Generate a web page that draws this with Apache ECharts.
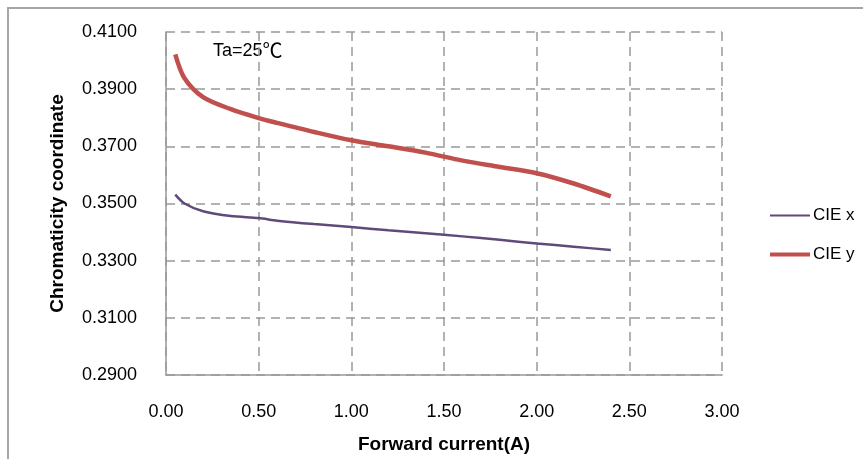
<!DOCTYPE html>
<html>
<head>
<meta charset="utf-8">
<script src="https://cdn.jsdelivr.net/npm/echarts@6/dist/echarts.min.js"></script>
<style>html,body{margin:0;padding:0;background:#fff;}#chart{width:863px;height:459px;}</style>
</head>
<body>
<div id="chart"></div>
<script>
var current = [0.05, 0.1, 0.2, 0.35, 0.5, 0.6, 0.8, 1.0, 1.2, 1.4, 1.6, 1.8, 2.0, 2.2, 2.4];
var cieX = [0.3531, 0.3500, 0.3473, 0.3456, 0.3449, 0.3440, 0.3428, 0.3418, 0.3406, 0.3396, 0.3385, 0.3373, 0.3360, 0.3349, 0.3337];
var cieY = [0.4022, 0.3938, 0.3872, 0.3830, 0.3799, 0.3782, 0.3750, 0.3721, 0.3700, 0.3678, 0.3650, 0.3628, 0.3606, 0.3570, 0.3525];
var seriesNames = ['CIE x', 'CIE y'];

function pairs(xs, ys) { return xs.map(function (x, i) { return [x, ys[i]]; }); }

var font = 'Liberation Sans, Arial';
var chart = echarts.init(document.getElementById('chart'));
chart.setOption({
  animation: false,
  backgroundColor: '#fff',
  grid: { left: 166, right: 141, top: 32, bottom: 83 },
  legend: {
    orient: 'vertical', left: 765, top: 202, itemGap: 22,
    itemWidth: 40, itemHeight: 14,
    textStyle: { fontFamily: font, fontSize: 17, color: '#000', padding: [0, 0, 0, -2] },
    data: [
      { name: seriesNames[0], itemStyle: { color: '#604A7B' }, icon: 'path://M0,6 L40,6 L40,8 L0,8 Z' },
      { name: seriesNames[1], itemStyle: { color: '#C0504D' }, icon: 'path://M0,5 L40,5 L40,9 L0,9 Z' }
    ]
  },
  xAxis: {
    type: 'value', min: 0, max: 3, interval: 0.5,
    name: 'Forward current(A)', nameLocation: 'middle', nameGap: 60,
    nameTextStyle: { fontFamily: font, fontSize: 19, fontWeight: 'bold', color: '#000' },
    axisLine: { show: true, lineStyle: { color: '#999', width: 1.5 } },
    axisTick: { show: false },
    axisLabel: { margin: 28, fontFamily: font, fontSize: 18, color: '#000',
      formatter: function (v) { return v.toFixed(2); } },
    splitLine: { show: true, lineStyle: { color: '#999', type: [9, 6], width: 1.5 } }
  },
  yAxis: {
    type: 'value', min: 0.29, max: 0.41, interval: 0.02,
    name: 'Chromaticity coordinate', nameLocation: 'middle', nameGap: 99,
    nameTextStyle: { fontFamily: font, fontSize: 19, fontWeight: 'bold', color: '#000' },
    axisLine: { show: true, lineStyle: { color: '#999', width: 1.5 } },
    axisTick: { show: false },
    axisLabel: { margin: 29, fontFamily: font, fontSize: 18, color: '#000',
      formatter: function (v) { return v.toFixed(4); } },
    splitLine: { show: true, lineStyle: { color: '#999', type: [9, 6], width: 1.5 } }
  },
  series: [
    { name: seriesNames[0], type: 'line', data: pairs(current, cieX), smooth: 0.3, showSymbol: false,
      lineStyle: { color: '#604A7B', width: 2.5 }, itemStyle: { color: '#604A7B' } },
    { name: seriesNames[1], type: 'line', data: pairs(current, cieY), smooth: 0.3, showSymbol: false,
      lineStyle: { color: '#C0504D', width: 4.5 }, itemStyle: { color: '#C0504D' } }
  ],
  graphic: [
    { type: 'text', left: 213, top: 40, style: {
        text: '{a|Ta=25}{b|℃}',
        rich: {
          a: { fontFamily: font, fontSize: 18, fill: '#000', verticalAlign: 'bottom' },
          b: { fontFamily: 'Noto Sans CJK SC', fontSize: 20, fill: '#000', verticalAlign: 'bottom' }
        } } },
    { type: 'line', shape: { x1: 7, y1: 8, x2: 863, y2: 8 }, style: { stroke: '#a6a6a6', lineWidth: 2 } },
    { type: 'line', shape: { x1: 8, y1: 7, x2: 8, y2: 459 }, style: { stroke: '#a6a6a6', lineWidth: 2 } }
  ]
});
</script>
</body>
</html>
